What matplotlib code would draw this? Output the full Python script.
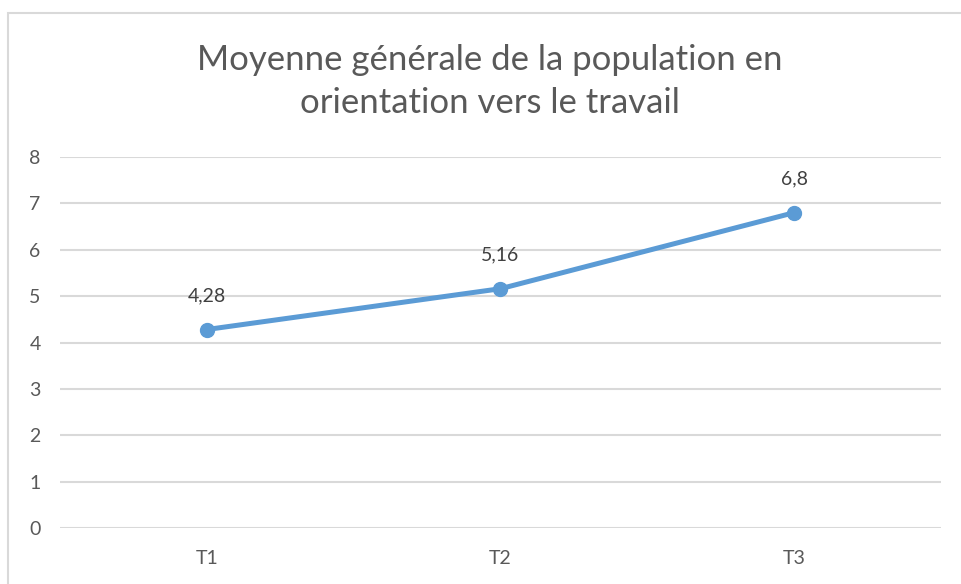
import matplotlib.pyplot as plt
from matplotlib.patches import Rectangle

# Data
categories = ['T1', 'T2', 'T3']
values = [4.28, 5.16, 6.8]
value_labels = ['4,28', '5,16', '6,8']
y_ticks = [0, 1, 2, 3, 4, 5, 6, 7, 8]

W, H = 961, 584
fig = plt.figure(figsize=(W / 100, H / 100), dpi=100)
plt.rcParams['font.family'] = ['Lato', 'DejaVu Sans']

# Chart area border (Excel style)
fig.patches.append(Rectangle((8 / W, -0.1), 1.2, (H - 13) / H + 0.1,
                             transform=fig.transFigure, fill=False,
                             edgecolor='#D9D9D9', linewidth=1.5))

ax = fig.add_axes([60 / W, (H - 528) / H, (941 - 60) / W, (528 - 157) / H])

x = list(range(len(categories)))
ax.plot(x, values, color='#5B9BD5', linewidth=3.6, marker='o',
        markersize=10, solid_capstyle='round', zorder=3)

for xi, v, lab in zip(x, values, value_labels):
    ax.annotate(lab, (xi, v), xytext=(0, 18), textcoords='offset points',
                ha='center', va='bottom', fontsize=14, color='#404040')

ax.set_xlim(-0.5, 2.5)
ax.set_ylim(0, 8)
ax.set_yticks(y_ticks)
ax.set_xticks(x)
ax.set_xticklabels(categories)
ax.yaxis.grid(True, color='#D9D9D9', linewidth=1.5)
ax.set_axisbelow(True)
for s in ax.spines.values():
    s.set_visible(False)
ax.tick_params(axis='both', length=0, labelsize=14, colors='#595959')
ax.tick_params(axis='y', pad=14)
ax.tick_params(axis='x', pad=16)

fig.text(490 / W, (H - 60) / H, 'Moyenne générale de la population en',
         ha='center', va='center', fontsize=25, color='#595959')
fig.text(490 / W, (H - 103) / H, 'orientation vers le travail',
         ha='center', va='center', fontsize=25, color='#595959')

fig.savefig('out.png', dpi=100)
